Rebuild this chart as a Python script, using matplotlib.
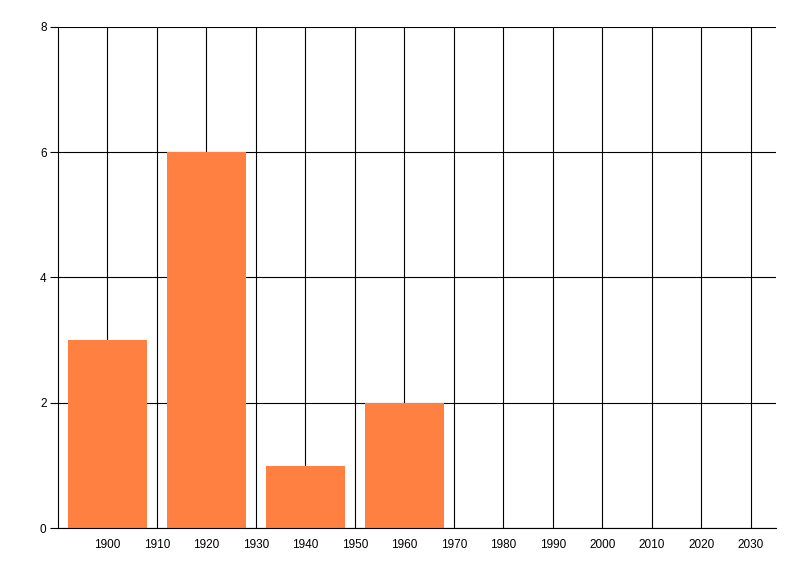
import numpy as np
import matplotlib
matplotlib.use("Agg")
import matplotlib.pyplot as plt

# histogram-style counts per 20-year bin (centre year)
decades = [1900, 1920, 1940, 1960]
counts = [3, 6, 1, 2]
xticks = list(range(1900, 2031, 10))
yticks = [0, 2, 4, 6, 8]

plt.rcParams['font.family'] = ['Liberation Sans', 'DejaVu Sans']

fig = plt.figure(figsize=(8, 5.76), dpi=100)
ax = fig.add_axes([57.7 / 800, 1 - 528.3 / 576, 718 / 800, 501.6 / 576])

ax.bar(decades, counts, width=16, color='#FF8040', linewidth=0, zorder=2)

ax.set_xlim(1890, 2035)
ax.set_ylim(0, 8)
ax.set_xticks(xticks)
ax.set_yticks(yticks)
ax.grid(True, color='black', linewidth=0.8, zorder=0)
ax.set_axisbelow(True)

for s in ['top', 'right']:
    ax.spines[s].set_visible(False)
for s in ['left', 'bottom']:
    ax.spines[s].set_linewidth(0.8)
    ax.spines[s].set_color('black')

ax.tick_params(axis='x', length=0, pad=8, labelsize=8.5, colors='black')
ax.tick_params(axis='y', length=6, width=0.8, pad=2, labelsize=8.5, colors='black')

fig.savefig('out.png', dpi=100)
